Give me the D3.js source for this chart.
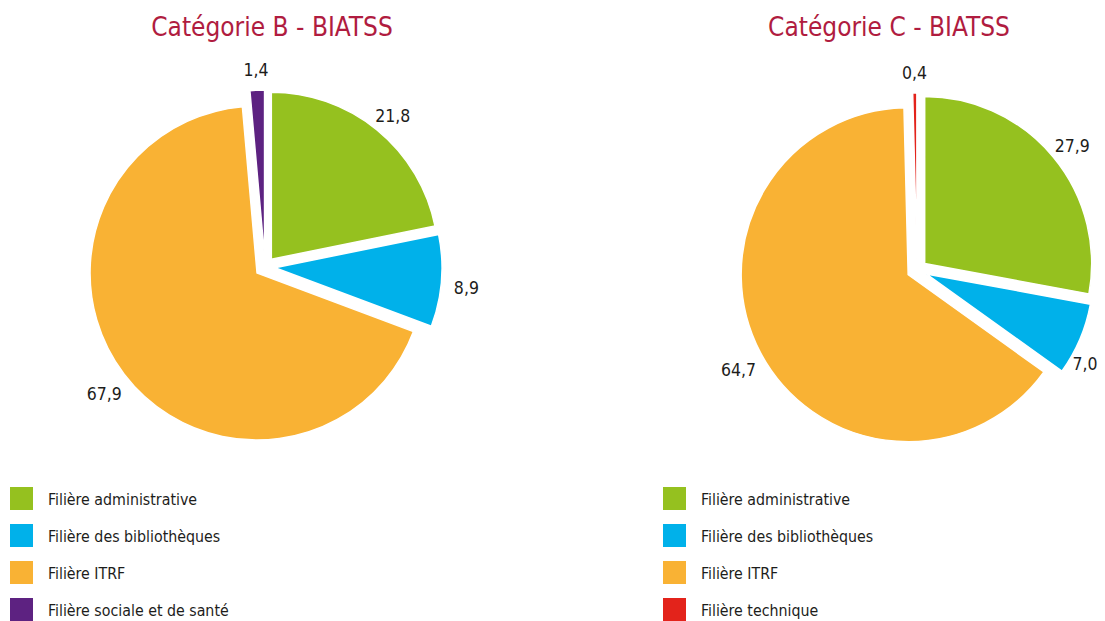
<!DOCTYPE html>
<html lang="fr">
<head>
<meta charset="UTF-8">
<title>BIATSS par filière</title>
<script src="https://d3js.org/d3.v7.min.js"></script>
<style>
  body { margin: 0; background: #fff; }
  text { font-family: "Liberation Sans Narrow", "DejaVu Sans Condensed", "Roboto", sans-serif; }
</style>
</head>
<body>
<svg id="chart"></svg>
<script>
// Data
const titles = ["Catégorie B - BIATSS", "Catégorie C - BIATSS"];
const categoriesB = ["Filière administrative", "Filière des bibliothèques", "Filière ITRF", "Filière sociale et de santé"];
const valuesB = [21.8, 8.9, 67.9, 1.4];
const categoriesC = ["Filière administrative", "Filière des bibliothèques", "Filière ITRF", "Filière technique"];
const valuesC = [27.9, 7.0, 64.7, 0.4];

const colorMap = {
    "Filière administrative": "#95c11f",
    "Filière des bibliothèques": "#00b1ea",
    "Filière ITRF": "#f9b234",
    "Filière sociale et de santé": "#5d2281",
    "Filière technique": "#e3231b"
};

const width = 1105, height = 621;
const svg = d3.select("#chart").attr("width", width).attr("height", height);

const fr = d3.formatLocale({decimal: ",", thousands: " ", grouping: [3], currency: ["", " €"]});
const fmt = fr.format(".1f");

const radius = 167, explode = 10, labelRadius = 202;

const pie = d3.pie().sort(null).value(d => d.value);
const arc = d3.arc().innerRadius(0).outerRadius(radius);
const labelArc = d3.arc().innerRadius(labelRadius).outerRadius(labelRadius);

// label position: on the label circle, slid round it if it would leave the page
function labelPos(d, cx) {
    let [x, y] = labelArc.centroid(d);
    const maxX = width - 20 - cx;
    if (x > maxX) {
        const r = labelRadius - 12;
        const a = Math.PI - Math.asin(maxX / r);
        x = maxX;
        y = -Math.cos(a) * r;
    }
    return [x, y + 5];
}

// one panel per category
const panels = [
    {title: titles[0], cats: categoriesB, vals: valuesB, cx: 265, cy: 267, titleX: 272, legendX: 10},
    {title: titles[1], cats: categoriesC, vals: valuesC, cx: 917, cy: 270, titleX: 889, legendX: 663}
];

panels.forEach(p => {
    const data = p.cats.map((c, i) => ({name: c, value: p.vals[i]}));
    const arcs = pie(data);

    svg.append("text")
        .attr("x", p.titleX)
        .attr("y", 36)
        .attr("text-anchor", "middle")
        .attr("font-size", 26)
        .attr("fill", "#b01c40")
        .text(p.title);

    const g = svg.append("g").attr("transform", `translate(${p.cx},${p.cy})`);

    // exploded slices
    g.selectAll("path")
        .data(arcs)
        .enter()
        .append("path")
        .attr("d", arc)
        .attr("fill", d => colorMap[d.data.name])
        .attr("stroke", "#fff")
        .attr("stroke-width", 1.5)
        .attr("transform", d => {
            const a = (d.startAngle + d.endAngle) / 2;
            return `translate(${Math.sin(a) * explode},${-Math.cos(a) * explode})`;
        });

    // value labels
    g.selectAll("text.val")
        .data(arcs)
        .enter()
        .append("text")
        .attr("class", "val")
        .attr("transform", d => `translate(${labelPos(d, p.cx)})`)
        .attr("text-anchor", "middle")
        .attr("dy", "0.35em")
        .attr("font-size", 17.5)
        .attr("fill", "#1d1d1b")
        .text(d => fmt(d.data.value));

    // legend
    const leg = svg.append("g").attr("transform", `translate(${p.legendX},487)`);
    const rows = leg.selectAll("g")
        .data(data)
        .enter()
        .append("g")
        .attr("transform", (d, i) => `translate(0,${i * 37})`);
    rows.append("rect")
        .attr("width", 23)
        .attr("height", 23)
        .attr("fill", d => colorMap[d.name]);
    rows.append("text")
        .attr("x", 38)
        .attr("y", 17.5)
        .attr("font-size", 15.8)
        .attr("fill", "#1d1d1b")
        .text(d => d.name);
});
</script>
</body>
</html>
